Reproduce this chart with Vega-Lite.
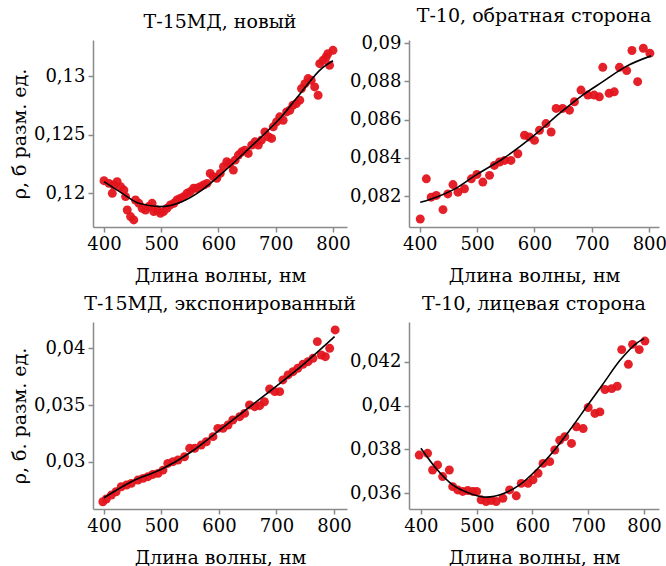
{
  "$schema": "https://vega.github.io/schema/vega-lite/v6.json",
  "background": "white",
  "padding": {"left": 10, "top": 7, "right": 0, "bottom": 0},
  "config": {
    "font": "DejaVu Serif",
    "view": {"stroke": null},
    "axis": {
      "grid": false,
      "domainColor": "#8a8a8a",
      "domainWidth": 1.5,
      "tickColor": "#8a8a8a",
      "tickWidth": 1.5,
      "tickSize": 5,
      "labelFont": "DejaVu Serif",
      "labelFontSize": 18,
      "labelColor": "black",
      "labelPadding": 3,
      "titleFont": "DejaVu Serif",
      "titleFontSize": 19,
      "titleFontWeight": "normal",
      "titleColor": "black"
    },
    "axisX": {"titlePadding": 13},
    "axisY": {"titlePadding": 6},
    "title": {"font": "DejaVu Serif", "fontSize": 19, "fontWeight": "normal", "color": "black", "anchor": "middle", "frame": "group", "offset": 8}
  },
  "datasets": {
    "p1": [
      {"x":400,"y":0.12108},{"x":408.7,"y":0.12085},{"x":417,"y":0.12071},{"x":423,"y":0.12099},{"x":414.5,"y":0.12},{"x":429,"y":0.12057},{"x":434.8,"y":0.12028},{"x":437.7,"y":0.11972},{"x":440.6,"y":0.11858},{"x":446.4,"y":0.11802},{"x":452,"y":0.11773},{"x":455,"y":0.11943},{"x":461,"y":0.11915},{"x":466.7,"y":0.11872},{"x":472.5,"y":0.11858},{"x":478,"y":0.11887},{"x":484,"y":0.11915},{"x":487,"y":0.11844},{"x":492.8,"y":0.11858},{"x":498.6,"y":0.1183},{"x":504,"y":0.11844},{"x":510,"y":0.11872},{"x":516,"y":0.11901},{"x":522,"y":0.11915},{"x":527.5,"y":0.11943},{"x":533,"y":0.11957},{"x":539,"y":0.11972},{"x":545,"y":0.12},{"x":550.7,"y":0.12014},{"x":556.5,"y":0.12043},{"x":562,"y":0.12043},{"x":568,"y":0.12057},{"x":574,"y":0.12071},{"x":580,"y":0.12085},{"x":585.5,"y":0.1217},{"x":591,"y":0.12142},{"x":597,"y":0.12128},{"x":603,"y":0.1217},{"x":608.7,"y":0.12227},{"x":614.5,"y":0.12269},{"x":620,"y":0.12255},{"x":626,"y":0.12198},{"x":629,"y":0.12283},{"x":634.8,"y":0.12326},{"x":640.6,"y":0.12354},{"x":646,"y":0.12368},{"x":652,"y":0.1234},{"x":658,"y":0.12411},{"x":663.8,"y":0.12439},{"x":669.6,"y":0.12411},{"x":675,"y":0.12453},{"x":681,"y":0.12524},{"x":687,"y":0.12482},{"x":692.8,"y":0.12468},{"x":695.7,"y":0.12567},{"x":701.4,"y":0.12609},{"x":707,"y":0.12652},{"x":713,"y":0.12623},{"x":719,"y":0.12694},{"x":724.6,"y":0.12708},{"x":730,"y":0.12751},{"x":736,"y":0.12765},{"x":742,"y":0.12794},{"x":745,"y":0.12893},{"x":751,"y":0.12935},{"x":756.5,"y":0.12978},{"x":762,"y":0.12964},{"x":768,"y":0.12907},{"x":774,"y":0.12836},{"x":776.8,"y":0.13105},{"x":782.6,"y":0.13134},{"x":788,"y":0.13162},{"x":794,"y":0.13091},{"x":800,"y":0.13219},{"x":791,"y":0.1319}
    ],
    "c1": [
      {"x":400,"y":0.121},{"x":432,"y":0.12},{"x":461,"y":0.11915},{"x":498,"y":0.11887},{"x":536,"y":0.11929},{"x":571,"y":0.12028},{"x":606,"y":0.1217},{"x":641,"y":0.12326},{"x":675,"y":0.12482},{"x":710,"y":0.12652},{"x":745,"y":0.12864},{"x":780,"y":0.13063},{"x":800,"y":0.1313}
    ],
    "p2": [
      {"x":401,"y":0.08081},{"x":411.6,"y":0.08291},{"x":420,"y":0.08195},{"x":429,"y":0.08204},{"x":440.6,"y":0.0813},{"x":449,"y":0.08212},{"x":458,"y":0.08261},{"x":466.7,"y":0.08221},{"x":478,"y":0.08239},{"x":490,"y":0.08291},{"x":499.7,"y":0.08314},{"x":510,"y":0.08274},{"x":521.7,"y":0.08309},{"x":530,"y":0.08361},{"x":539,"y":0.08379},{"x":548,"y":0.08387},{"x":559,"y":0.08387},{"x":571,"y":0.08422},{"x":582.6,"y":0.08519},{"x":591,"y":0.0851},{"x":600,"y":0.08492},{"x":608.7,"y":0.08545},{"x":620,"y":0.0858},{"x":629,"y":0.08536},{"x":637.7,"y":0.08659},{"x":649,"y":0.08659},{"x":661,"y":0.0865},{"x":669.6,"y":0.08694},{"x":681,"y":0.08755},{"x":693,"y":0.08729},{"x":704,"y":0.08729},{"x":713,"y":0.0872},{"x":719,"y":0.08874},{"x":730,"y":0.08738},{"x":739,"y":0.08746},{"x":748,"y":0.08874},{"x":760.6,"y":0.08857},{"x":769.8,"y":0.08962},{"x":779.7,"y":0.08799},{"x":789.6,"y":0.08974},{"x":801,"y":0.08948}
    ],
    "c2": [
      {"x":401,"y":0.08168},{"x":429,"y":0.08195},{"x":458,"y":0.08233},{"x":501,"y":0.08317},{"x":545,"y":0.08396},{"x":603,"y":0.08527},{"x":643.5,"y":0.08633},{"x":684,"y":0.08729},{"x":719,"y":0.08799},{"x":759,"y":0.08878},{"x":803,"y":0.08934}
    ],
    "p3": [
      {"x":398,"y":0.02647},{"x":404,"y":0.02671},{"x":412.8,"y":0.02706},{"x":421,"y":0.02735},{"x":430,"y":0.02779},{"x":439,"y":0.02794},{"x":447.5,"y":0.02809},{"x":459,"y":0.02838},{"x":468,"y":0.02853},{"x":476.5,"y":0.02868},{"x":485,"y":0.02888},{"x":494,"y":0.02897},{"x":502.6,"y":0.02926},{"x":511,"y":0.02985},{"x":520,"y":0.03},{"x":528.7,"y":0.03015},{"x":540,"y":0.03044},{"x":549,"y":0.03118},{"x":557.7,"y":0.03118},{"x":569,"y":0.03147},{"x":578,"y":0.03176},{"x":589.6,"y":0.03221},{"x":598,"y":0.03294},{"x":607,"y":0.03294},{"x":615.7,"y":0.03324},{"x":624,"y":0.03368},{"x":636,"y":0.03397},{"x":644.6,"y":0.03426},{"x":653,"y":0.035},{"x":662,"y":0.03485},{"x":670.7,"y":0.03494},{"x":679,"y":0.03529},{"x":688,"y":0.03641},{"x":697,"y":0.03618},{"x":705.5,"y":0.03618},{"x":711,"y":0.03721},{"x":720,"y":0.03765},{"x":728.7,"y":0.03794},{"x":737,"y":0.03824},{"x":746,"y":0.03859},{"x":754.8,"y":0.03882},{"x":763.5,"y":0.03912},{"x":771,"y":0.04059},{"x":778,"y":0.03941},{"x":785,"y":0.03926},{"x":792.5,"y":0.04},{"x":802,"y":0.04162}
    ],
    "c3": [
      {"x":400,"y":0.02682},{"x":447.5,"y":0.02824},{"x":501,"y":0.02935},{"x":552,"y":0.03088},{"x":601,"y":0.03279},{"x":650,"y":0.03471},{"x":701,"y":0.03671},{"x":749,"y":0.03868},{"x":801,"y":0.04103}
    ],
    "p4": [
      {"x":397,"y":0.03774},{"x":412,"y":0.03782},{"x":421,"y":0.03706},{"x":430,"y":0.03729},{"x":439,"y":0.03676},{"x":451,"y":0.03706},{"x":457,"y":0.0363},{"x":466,"y":0.03615},{"x":475,"y":0.03608},{"x":484,"y":0.03612},{"x":493,"y":0.03608},{"x":500,"y":0.03608},{"x":508,"y":0.0357},{"x":517,"y":0.03562},{"x":526,"y":0.03567},{"x":535,"y":0.03562},{"x":547,"y":0.03577},{"x":559,"y":0.03615},{"x":571,"y":0.03588},{"x":580,"y":0.03645},{"x":592,"y":0.03645},{"x":601,"y":0.03661},{"x":610,"y":0.03691},{"x":619,"y":0.03736},{"x":631,"y":0.03744},{"x":640,"y":0.03797},{"x":649,"y":0.03842},{"x":658,"y":0.03858},{"x":670,"y":0.03827},{"x":679,"y":0.03903},{"x":691,"y":0.03895},{"x":700,"y":0.03991},{"x":712,"y":0.03964},{"x":721,"y":0.03971},{"x":730,"y":0.04073},{"x":742,"y":0.04077},{"x":752,"y":0.04088},{"x":760,"y":0.04255},{"x":772,"y":0.04188},{"x":779.5,"y":0.04279},{"x":791.5,"y":0.04255},{"x":801.7,"y":0.04294}
    ],
    "c4": [
      {"x":400,"y":0.03805},{"x":427,"y":0.03714},{"x":457,"y":0.03638},{"x":487,"y":0.036},{"x":517,"y":0.03582},{"x":547,"y":0.03597},{"x":577,"y":0.03638},{"x":607,"y":0.03706},{"x":637,"y":0.03789},{"x":667,"y":0.03888},{"x":697,"y":0.03994},{"x":727,"y":0.041},{"x":757,"y":0.04206},{"x":787,"y":0.04285},{"x":800,"y":0.04305}
    ]
  },
  "columns": 2,
  "bounds": "flush",
  "spacing": {"row": 95, "column": 62},
  "concat": [
    {
      "width": 254, "height": 187,
      "title": "Т-15МД, новый",
      "layer": [
        {
          "data": {"name": "p1"},
          "mark": {"type": "circle", "size": 80, "color": "#e3141c", "opacity": 0.95},
          "encoding": {
            "x": {"field": "x", "type": "quantitative", "scale": {"domain": [380.8, 824.5], "nice": false, "zero": false},
                  "axis": {"title": "Длина волны, нм", "values": [400, 500, 600, 700, 800]}},
            "y": {"field": "y", "type": "quantitative", "scale": {"domain": [0.11713, 0.13307], "nice": false, "zero": false},
                  "axis": {"title": "ρ, б разм. ед.", "values": [0.12, 0.125, 0.13], "labelExpr": "replace(format(datum.value, '.3~f'), '.', ',')", "minExtent": 58, "maxExtent": 58}}
          }
        },
        {
          "data": {"name": "c1"},
          "mark": {"type": "line", "color": "black", "strokeWidth": 1.6, "interpolate": "monotone"},
          "encoding": {"x": {"field": "x", "type": "quantitative"}, "y": {"field": "y", "type": "quantitative"}}
        }
      ]
    },
    {
      "width": 250, "height": 187,
      "title": "Т-10, обратная сторона",
      "layer": [
        {
          "data": {"name": "p2"},
          "mark": {"type": "circle", "size": 80, "color": "#e3141c", "opacity": 0.95},
          "encoding": {
            "x": {"field": "x", "type": "quantitative", "scale": {"domain": [381.4, 816.9], "nice": false, "zero": false},
                  "axis": {"title": "Длина волны, нм", "values": [400, 500, 600, 700, 800]}},
            "y": {"field": "y", "type": "quantitative", "scale": {"domain": [0.08039, 0.09017], "nice": false, "zero": false},
                  "axis": {"title": null, "values": [0.082, 0.084, 0.086, 0.088, 0.09], "labelExpr": "replace(format(datum.value, '.3~f'), '.', ',')"}}
          }
        },
        {
          "data": {"name": "c2"},
          "mark": {"type": "line", "color": "black", "strokeWidth": 1.6, "interpolate": "monotone"},
          "encoding": {"x": {"field": "x", "type": "quantitative"}, "y": {"field": "y", "type": "quantitative"}}
        }
      ]
    },
    {
      "width": 254, "height": 187,
      "title": "Т-15МД, экспонированный",
      "layer": [
        {
          "data": {"name": "p3"},
          "mark": {"type": "circle", "size": 80, "color": "#e3141c", "opacity": 0.95},
          "encoding": {
            "x": {"field": "x", "type": "quantitative", "scale": {"domain": [380.9, 822.6], "nice": false, "zero": false},
                  "axis": {"title": "Длина волны, нм", "values": [400, 500, 600, 700, 800]}},
            "y": {"field": "y", "type": "quantitative", "scale": {"domain": [0.02583, 0.04232], "nice": false, "zero": false},
                  "axis": {"title": "ρ, б. разм. ед.", "values": [0.03, 0.035, 0.04], "labelExpr": "replace(format(datum.value, '.3~f'), '.', ',')", "minExtent": 58, "maxExtent": 58}}
          }
        },
        {
          "data": {"name": "c3"},
          "mark": {"type": "line", "color": "black", "strokeWidth": 1.6, "interpolate": "monotone"},
          "encoding": {"x": {"field": "x", "type": "quantitative"}, "y": {"field": "y", "type": "quantitative"}}
        }
      ]
    },
    {
      "width": 250, "height": 187,
      "title": "Т-10, лицевая сторона",
      "layer": [
        {
          "data": {"name": "p4"},
          "mark": {"type": "circle", "size": 80, "color": "#e3141c", "opacity": 0.95},
          "encoding": {
            "x": {"field": "x", "type": "quantitative", "scale": {"domain": [378.7, 826.9], "nice": false, "zero": false},
                  "axis": {"title": "Длина волны, нм", "values": [400, 500, 600, 700, 800]}},
            "y": {"field": "y", "type": "quantitative", "scale": {"domain": [0.03528, 0.04381], "nice": false, "zero": false},
                  "axis": {"title": null, "values": [0.036, 0.038, 0.04, 0.042], "labelExpr": "replace(format(datum.value, '.3~f'), '.', ',')"}}
          }
        },
        {
          "data": {"name": "c4"},
          "mark": {"type": "line", "color": "black", "strokeWidth": 1.6, "interpolate": "monotone"},
          "encoding": {"x": {"field": "x", "type": "quantitative"}, "y": {"field": "y", "type": "quantitative"}}
        }
      ]
    }
  ]
}
